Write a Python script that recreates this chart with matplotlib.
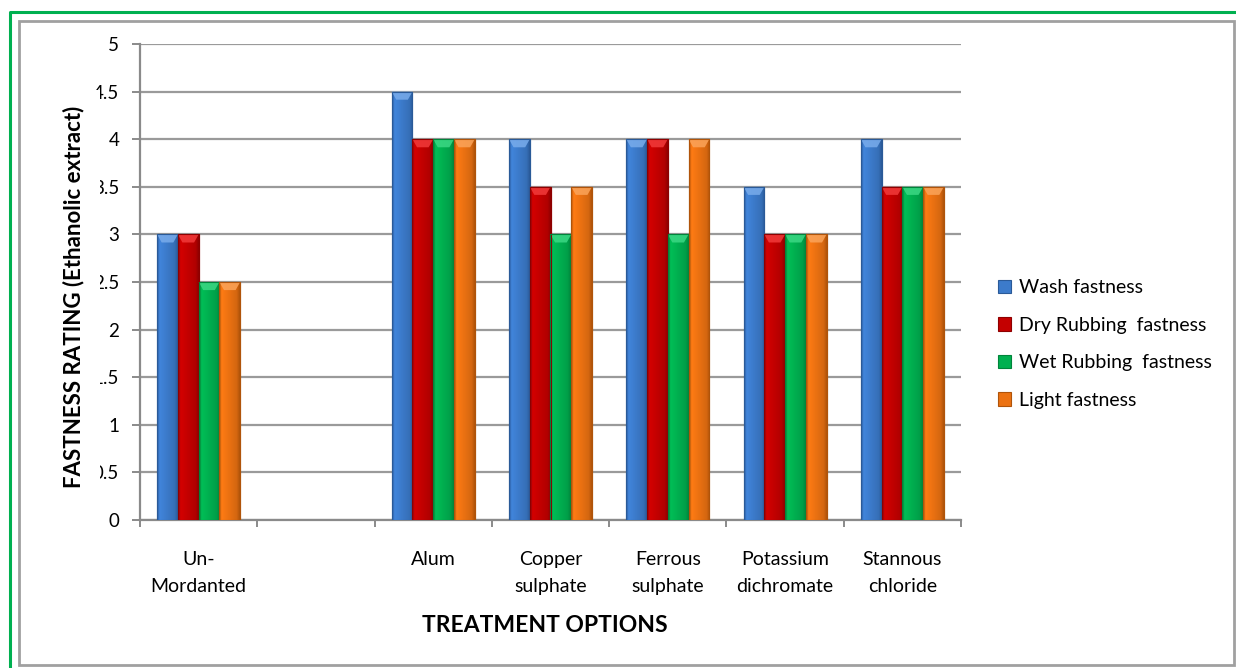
import numpy as np
import matplotlib
matplotlib.use("Agg")
import matplotlib.pyplot as plt
from matplotlib.colors import LinearSegmentedColormap, to_rgb
from matplotlib.patches import Rectangle, Polygon
from matplotlib.lines import Line2D

plt.rcParams['font.family'] = ['Lato', 'DejaVu Sans']

categories = ["Un-\nMordanted", "", "Alum", "Copper\nsulphate", "Ferrous\nsulphate",
              "Potassium\ndichromate", "Stannous\nchloride"]
series_names = ["Wash fastness", "Dry Rubbing  fastness", "Wet Rubbing  fastness", "Light fastness"]
wash = [3.0, np.nan, 4.5, 4.0, 4.0, 3.5, 4.0]
dry_rub = [3.0, np.nan, 4.0, 3.5, 4.0, 3.0, 3.5]
wet_rub = [2.5, np.nan, 4.0, 3.0, 3.0, 3.0, 3.5]
light = [2.5, np.nan, 4.0, 3.5, 4.0, 3.0, 3.5]
yticks = [0, 0.5, 1, 1.5, 2, 2.5, 3, 3.5, 4, 4.5, 5]
ytick_labels = ["0", "0.5", "1", "1.5", "2", "2.5", "3", "3.5", "4", "4.5", "5"]

series = [wash, dry_rub, wet_rub, light]
base_colors = ["#3C7BCB", "#C40000", "#00B050", "#EC7212"]
dark_colors = ["#2A5A98", "#8E0000", "#00843B", "#B0540A"]
cap_colors = ["#79ACEB", "#F23A3A", "#3CD884", "#FBA45A"]


def shade(c, f):
    r, g, b = to_rgb(c)
    return (min(r * f, 1), min(g * f, 1), min(b * f, 1))


W, H = 1236, 668
fig = plt.figure(figsize=(W / 100, H / 100), dpi=100)
fig.patch.set_facecolor("white")

# page border (top and left edges) and chart frame
fig.lines.append(Line2D([10 / W, 10 / W, 1.0], [0.0, 1 - 12 / H, 1 - 12 / H],
                        transform=fig.transFigure, color="#00B050", lw=2.2))
fig.patches.append(Rectangle((19 / W, 1 - 665 / H), (1234 - 19) / W, (665 - 21) / H,
                             transform=fig.transFigure, fill=False,
                             edgecolor="#A0A0A0", lw=2.0, zorder=0))

ax = fig.add_axes([140 / W, 1 - 520 / H, (961 - 140) / W, (520 - 44) / H])
ax.set_xlim(-0.5, len(categories) - 0.5)
ax.set_ylim(0, 5)

x = np.arange(len(categories))
width = 0.177
cap_h = 0.085

for i, (vals, base, dark, cap) in enumerate(zip(series, base_colors, dark_colors, cap_colors)):
    vals = np.asarray(vals, dtype=float)
    ok = ~np.isnan(vals)
    xs = x[ok] + (i - 1.5) * width
    bars = ax.bar(xs, vals[ok], width=width, color=base, edgecolor=dark, lw=0.8,
                  zorder=3, label=series_names[i])
    cmap = LinearSegmentedColormap.from_list(
        "cyl", [(0, dark), (0.12, shade(base, 1.08)), (0.45, base), (0.85, shade(base, 0.9)), (1, dark)])
    grad = np.linspace(0, 1, 64).reshape(1, -1)
    for b in bars:
        x0, w, h = b.get_x(), b.get_width(), b.get_height()
        im = ax.imshow(grad, cmap=cmap, extent=(x0, x0 + w, 0, h), aspect="auto",
                       zorder=3.1, interpolation="bilinear")
        im.set_clip_path(b)
        ax.add_patch(Polygon([(x0, h), (x0 + w, h), (x0 + w * 0.78, h - cap_h),
                              (x0 + w * 0.22, h - cap_h)], closed=True,
                             facecolor=cap, edgecolor="none", alpha=0.85, zorder=3.2))
        ax.add_patch(Rectangle((x0, 0), w, h, fill=False, edgecolor=dark, lw=0.8, zorder=3.3))

ax.set_yticks(yticks)
ax.set_yticklabels(ytick_labels, fontsize=13.5)
ax.yaxis.grid(True, color="#9A9A9A", lw=1.6, zorder=0)
ax.set_axisbelow(True)
ax.tick_params(axis="y", direction="out", length=6, width=1.4, color="#8A8A8A", pad=9)

ax.set_xticks(x)
ax.set_xticklabels(categories, fontsize=14, linespacing=1.75)
ax.set_xticks(np.arange(len(categories) + 1) - 0.5, minor=True)
ax.tick_params(axis="x", which="major", length=0, pad=22)
ax.tick_params(axis="x", which="minor", direction="out", length=5, width=1.4, color="#8A8A8A")

for s in ["top", "right"]:
    ax.spines[s].set_visible(False)
for s in ["left", "bottom"]:
    ax.spines[s].set_color("#8A8A8A")
    ax.spines[s].set_linewidth(1.6)

ax.set_ylabel("FASTNESS RATING (Ethanolic extract)", fontsize=16, fontweight="bold",
              bbox=dict(boxstyle="square,pad=0.72", facecolor="white", edgecolor="none"))
ax.yaxis.set_label_coords((84 - 140) / 821, (520 - 297) / 476)

fig.text(545 / W, 1 - 626 / H, "TREATMENT OPTIONS", fontsize=16.5, fontweight="bold",
         ha="center", va="center")

fig.legend(loc="center left", bbox_to_anchor=(990 / W, 1 - 344 / H), frameon=False,
           fontsize=14, labelspacing=1.05, handlelength=0.7, handleheight=0.7,
           handletextpad=0.4, borderaxespad=0)

fig.savefig("out.png", dpi=100, facecolor="white")
